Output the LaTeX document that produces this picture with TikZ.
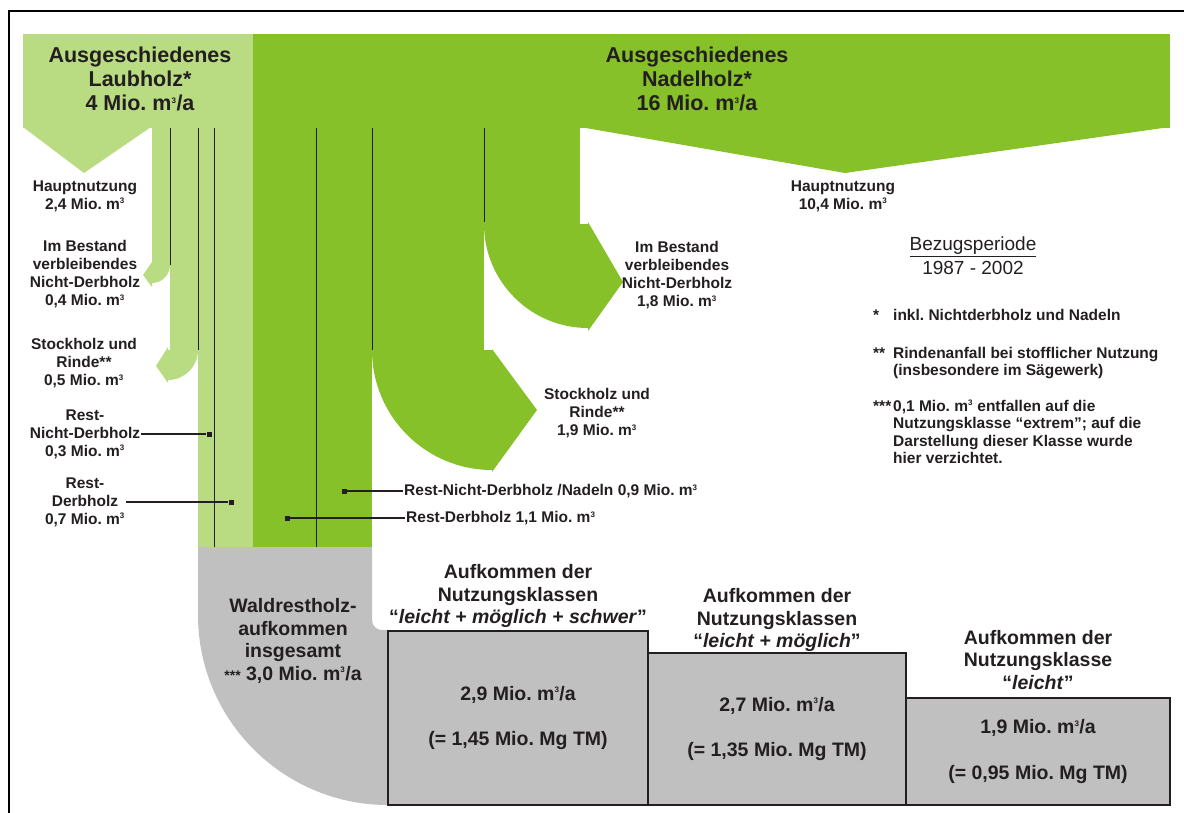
\documentclass[tikz,border=0pt]{standalone}
\usepackage{fontspec}
\setmainfont{Liberation Sans}
\definecolor{laub}{RGB}{185,220,130}
\definecolor{nadel}{RGB}{134,193,41}
\definecolor{rest}{RGB}{192,192,192}
\definecolor{ink}{RGB}{35,31,32}
\newcommand{\kubik}{m\textsuperscript{\fontsize{8}{8}\selectfont 3}}
\frenchspacing

\begin{document}
\begin{tikzpicture}[x=1pt,y=-1pt,
		lbl/.style={text=ink,align=center,inner sep=1pt,font=\fontsize{15.5}{18}\selectfont\bfseries},
		titel/.style={lbl,font=\fontsize{21.5}{24}\selectfont\bfseries},
		gross/.style={lbl,font=\fontsize{19.5}{22.5}\selectfont\bfseries},
		fussnote/.style={text=ink,inner sep=0pt,font=\fontsize{15.5}{17.5}\selectfont\bfseries},
		klasse/.style={gross,draw=ink,line width=1.6pt,fill=rest,inner sep=0pt,outer sep=0pt},
		trenn/.style={ink,line width=0.8pt},
		leitung/.style={ink,line width=1.2pt},
		knob/.style={fill=ink,inner sep=0pt,minimum size=5pt}]
	\useasboundingbox (0,0) rectangle (1184,812);
	\fill[laub] (23,34) rectangle (253,128);
	\fill[laub] (23,127) -- (151,127) -- (84,173) -- cycle;
	\fill[laub] (152,127) rectangle (170,265);
	\fill[laub] (170,127) rectangle (198,350);
	\fill[laub] (198,127) rectangle (253,547);
	\fill[laub] (152,265) -- (170,265) arc (0:90:18) -- cycle;
	\fill[laub] (152,262) -- (143,275) -- (152,287) -- cycle;
	\fill[laub] (168,350) -- (198,350) arc (0:90:30) -- cycle;
	\fill[laub] (168,347) -- (156,366) -- (168,383) -- cycle;
	\fill[nadel] (253,34) rectangle (1170,128);
	\fill[nadel] (580,127) -- (1170,127) -- (845,173) -- cycle;
	\fill[nadel] (253,127) rectangle (372,547);
	\fill[nadel] (372,127) rectangle (484,350);
	\fill[nadel] (484,127) rectangle (580,224);
	\fill[nadel] (588,224) -- (484,224) arc (180:90:104) -- cycle;
	\fill[nadel] (588,222) -- (623,282) -- (588,331) -- cycle;
	\fill[nadel] (492,350) -- (372,350) arc (180:90:120) -- cycle;
	\fill[nadel] (492,349) -- (537,410) -- (492,472) -- cycle;
	\fill[rest] (198,547) -- (372,547) -- (372,620) arc (180:90:10) -- (400,630) -- (400,805) -- (388,805) arc (90:180:190) -- cycle;
	\draw[trenn] (170,128) -- (170,265) (198,128) -- (198,350) (214,128) -- (214,547)
		(316,128) -- (316,547) (372,128) -- (372,350) (484,128) -- (484,222);

	\node[klasse,minimum width=260pt,minimum height=174pt] (b1) at (518,718) {2,9 Mio. \kubik/a\\[23pt](= 1,45 Mio. Mg TM)};
	\node[klasse,minimum width=258pt,minimum height=152pt] (b2) at (777,729) {2,7 Mio. \kubik/a\\[23pt](= 1,35 Mio. Mg TM)};
	\node[klasse,minimum width=264pt,minimum height=107pt] (b3) at (1038,751.5) {1,9 Mio. \kubik/a\\[23pt](= 0,95 Mio. Mg TM)};
	\node[gross] (kopf1) at (518,596) {Aufkommen der\\Nutzungsklassen\\“\textit{leicht + möglich + schwer}”};
	\node[gross] (kopf2) at (777,620) {Aufkommen der\\Nutzungsklassen\\“\textit{leicht + möglich}”};
	\node[gross] (kopf3) at (1038,660) {Aufkommen der\\Nutzungsklasse\\“\textit{leicht}”};
	\node[gross] (wald) at (293,641) {Waldrestholz-\\aufkommen\\insgesamt\\{\fontsize{14}{14}\selectfont ***} 3,0 Mio. \kubik/a};

	\node[titel] (laubkopf) at (140,79) {Ausgeschiedenes\\Laubholz*\\4 Mio. \kubik/a};
	\node[titel] (nadelkopf) at (697,79) {Ausgeschiedenes\\Nadelholz*\\16 Mio. \kubik/a};
	\node[lbl] (laubhaupt) at (85,196) {Hauptnutzung\\2,4 Mio. \kubik};
	\node[lbl] (nadelhaupt) at (843,196) {Hauptnutzung\\10,4 Mio. \kubik};
	\node[lbl] (laubbestand) at (85,274) {Im Bestand\\verbleibendes\\Nicht-Derbholz\\0,4 Mio. \kubik};
	\node[lbl] (laubstock) at (84,363) {Stockholz und\\Rinde**\\0,5 Mio. \kubik};
	\node[lbl] (laubrestnd) at (85,434) {Rest-\\Nicht-Derbholz\\0,3 Mio. \kubik};
	\node[lbl] (laubrestd) at (85,502) {Rest-\\Derbholz\\0,7 Mio. \kubik};
	\node[lbl] (nadelbestand) at (677,275) {Im Bestand\\verbleibendes\\Nicht-Derbholz\\1,8 Mio. \kubik};
	\node[lbl] (nadelstock) at (597,413) {Stockholz und\\Rinde**\\1,9 Mio. \kubik};
	\node[lbl,anchor=west] (nadelrestnd) at (403,491) {Rest-Nicht-Derbholz /Nadeln 0,9 Mio. \kubik};
	\node[lbl,anchor=west] (nadelrestd) at (405,518) {Rest-Derbholz 1,1 Mio. \kubik};

	\node[knob] (k1) at (209,434) {};
	\node[knob] (k2) at (231,502) {};
	\node[knob] (k3) at (344,491) {};
	\node[knob] (k4) at (287,518) {};
	\draw[leitung] (laubrestnd.east) -- (k1);
	\draw[leitung] (laubrestd.east) -- (k2);
	\draw[leitung] (k3) -- (nadelrestnd.west);
	\draw[leitung] (k4) -- (nadelrestd.west);

	\node[text=ink,align=center,font=\fontsize{19}{24}\selectfont] (bezug) at (973,256) {\underline{Bezugsperiode}\\1987 - 2002};
	\node[fussnote,anchor=base west] (fn1) at (873,320) {\begin{tabular}[t]{@{}p{20pt}@{}l@{}}*&inkl. Nichtderbholz und Nadeln\end{tabular}};
	\node[fussnote,anchor=base west] (fn2) at (873,358) {\begin{tabular}[t]{@{}p{20pt}@{}l@{}}**&Rindenanfall bei stofflicher Nutzung\\&(insbesondere im Sägewerk)\end{tabular}};
	\node[fussnote,anchor=base west] (fn3) at (873,411) {\begin{tabular}[t]{@{}p{20pt}@{}l@{}}***&0,1 Mio. \kubik{} entfallen auf die\\&Nutzungsklasse “extrem”; auf die\\&Darstellung dieser Klasse wurde\\&hier verzichtet.\end{tabular}};

	\draw[black,line width=2.5pt] (1200,11) -- (9,11) -- (9,830);
\end{tikzpicture}
\end{document}
